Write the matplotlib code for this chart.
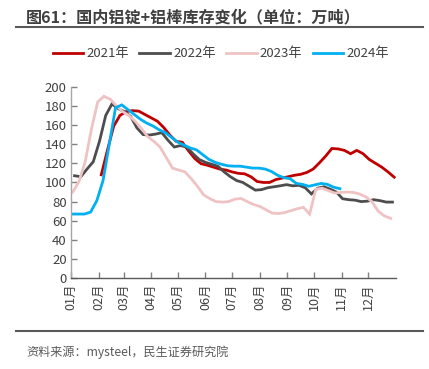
import numpy as np
import matplotlib
matplotlib.use("Agg")
import matplotlib.pyplot as plt
from matplotlib.lines import Line2D

plt.rcParams['font.family'] = ['Noto Sans CJK SC', 'DejaVu Sans']

# ---- data (weekly inventory, 万吨) ----
series_names = ['2021年', '2022年', '2023年', '2024年']
start_days = [34, 4, 2, 1]  # day-of-year of first weekly observation

v2021 = [108, 134, 159, 170, 174, 175, 174.5, 171, 167.5, 164, 157.5, 149.5,
         143, 142, 133, 125, 119.6, 118, 116, 114, 113, 111, 109.5, 109,
         106, 101, 100, 100, 103, 104.5, 106, 107.5, 108.5, 110.5, 114, 120.5,
         127.5, 135.5, 135, 133.5, 130, 133.5, 130, 124, 120, 116, 111, 105.5]
v2022 = [107, 106, 114, 121.6, 143, 170, 182, 177, 174, 169, 157, 150,
         149.5, 150.5, 152, 144, 137, 138.5, 137, 130, 124, 121, 119, 117,
         111, 106, 102, 100, 96, 92, 92.5, 94.5, 95.5, 96.5, 97.7, 96.5,
         97, 94.5, 88, 94, 95.5, 93, 90, 83, 82, 81.5, 80, 80.5, 82, 81, 79.5, 79.5]
v2023 = [90, 101, 122, 156, 184, 190, 187, 180, 174, 170, 164, 156.5,
         148, 143, 137, 126, 115, 113, 111, 104, 96, 87, 83, 80,
         79.5, 80, 82.5, 83.3, 80, 77, 75, 71.5, 68, 67.5, 68.5, 70.6,
         72.5, 74, 67, 93, 94, 91.5, 89, 89.5, 90, 89.6, 88, 85, 80, 70, 65, 62.5]
v2024 = [67, 67, 67, 69, 81, 102, 140, 178, 181, 176, 171, 166,
         162, 159, 155, 152, 147, 142, 139, 136, 134, 129, 124, 121,
         119, 117.4, 117, 117, 116, 115, 115, 114, 111.5, 107.5, 105, 104,
         99, 98, 96, 97.5, 99, 98, 95, 93.5]
series_values = [v2021, v2022, v2023, v2024]

month_starts = [0, 31, 59, 90, 120, 151, 181, 212, 243, 273, 304, 334]
month_labels = ['01月', '02月', '03月', '04月', '05月', '06月',
                '07月', '08月', '09月', '10月', '11月', '12月']
y_ticks = list(range(0, 201, 20))

colors = ['#C00000', '#4D4D4D', '#EFC3C3', '#00B0F0']

W, H = 429, 369
fig = plt.figure(figsize=(W / 100, H / 100), dpi=100)
ax = fig.add_axes([71 / W, 1 - 278.2 / H, (396 - 71) / W, (278.2 - 86.7) / H])

for name, start, vals, c in zip(series_names, start_days, series_values, colors):
    x = start + 7 * np.arange(len(vals))
    ax.plot(x, vals, color=c, lw=2.0, label=name, solid_joinstyle='miter')

ax.set_xlim(0, 365)
ax.set_ylim(0, 200)
ax.set_xticks(month_starts)
ax.set_xticklabels(month_labels, rotation=90, fontsize=9, color='#404040')
ax.set_yticks(y_ticks)
ax.set_yticklabels([str(v) for v in y_ticks], fontsize=9.5, color='#404040')
ax.tick_params(axis='both', direction='in', length=4, width=1, color='#808080')
ax.tick_params(axis='x', pad=4)
ax.tick_params(axis='y', pad=3)
for s in ['top', 'right']:
    ax.spines[s].set_visible(False)
ax.spines['left'].set_color('#A6A6A6')
ax.spines['bottom'].set_color('#595959')
ax.spines['left'].set_linewidth(1)
ax.spines['bottom'].set_linewidth(1)

# legend
handles = [Line2D([0], [0], color=c, lw=2) for c in colors]
fig.legend(handles, series_names, loc='center', bbox_to_anchor=(221 / W, 1 - 54 / H),
           ncol=4, frameon=False, fontsize=9.5, handlelength=2.3,
           handletextpad=0.25, columnspacing=0.8, labelcolor='#404040')

# title and rules
fig.text(26 / W, 1 - 17 / H, '图61：国内铝锭+铝棒库存变化（单位：万吨）', fontsize=11.6,
         fontweight='bold', color='#404040', ha='left', va='center')
fig.add_artist(Line2D([16 / W, 423 / W], [1 - 26.7 / H, 1 - 26.7 / H],
                      color='#595959', lw=1.5, transform=fig.transFigure))
fig.add_artist(Line2D([16 / W, 423 / W], [1 - 330.7 / H, 1 - 330.7 / H],
                      color='#595959', lw=1.5, transform=fig.transFigure))
fig.text(26 / W, 1 - 352 / H, '资料来源：mysteel，民生证券研究院', fontsize=8.7,
         color='#595959', ha='left', va='center')

fig.savefig('out.png', dpi=100)
